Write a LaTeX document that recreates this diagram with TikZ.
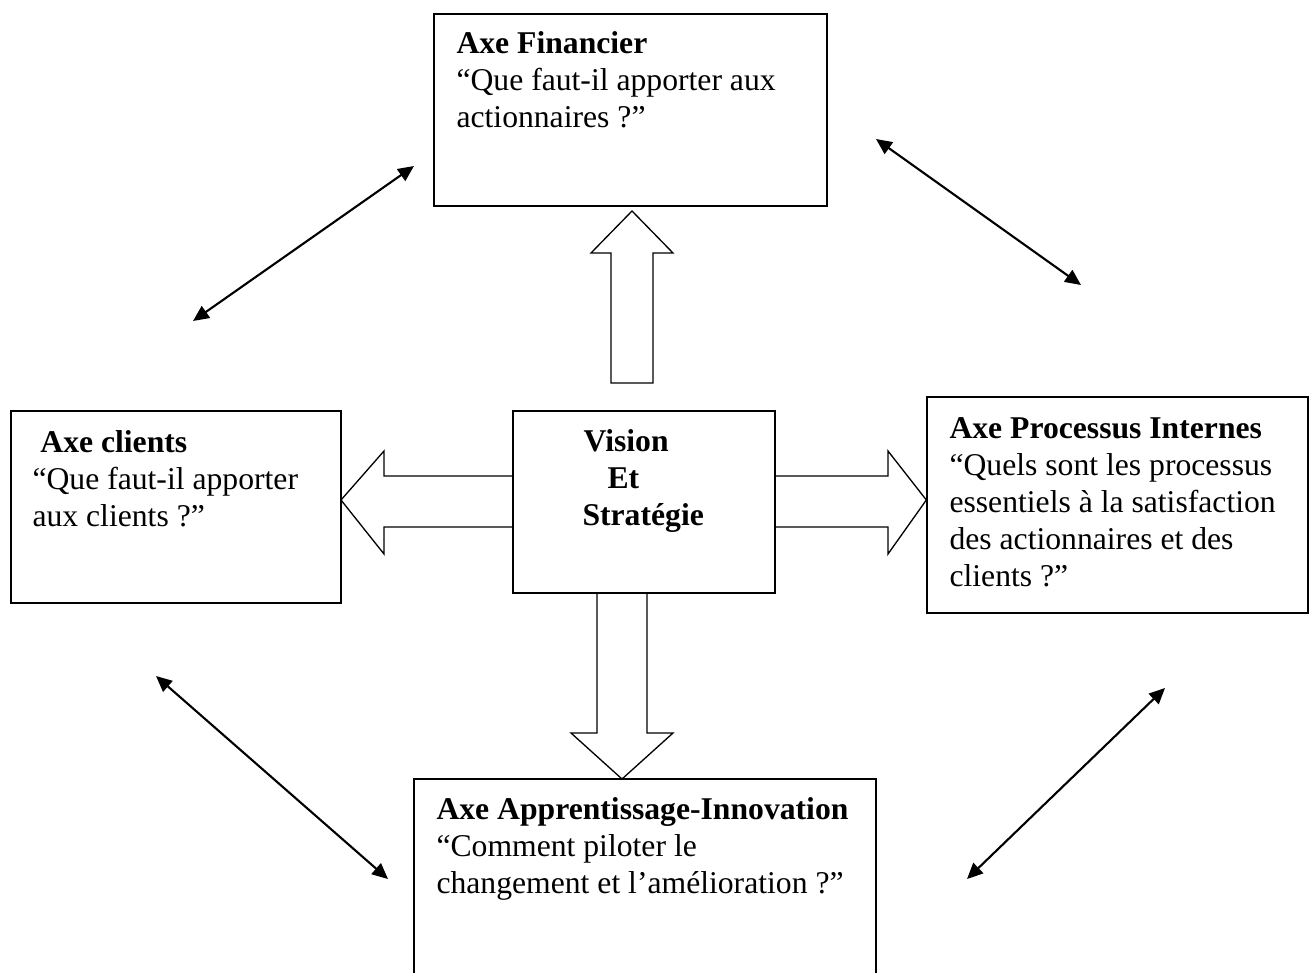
\documentclass[tikz,border=0pt]{standalone}
\usepackage{fontspec}
\setmainfont{Liberation Serif}
\usetikzlibrary{arrows.meta,fit}
\begin{document}
\begin{tikzpicture}[x=0.379pt,y=-0.379pt,
  box/.style={draw,line width=0.5pt,inner sep=0pt,rectangle},
  % multi-line texts: the base anchor sits on the baseline of the last line
  txt/.style={anchor=base west,align=left,inner sep=0pt,
    font=\fontsize{12pt}{14pt}\selectfont},
  block/.style={draw,line width=0.5pt,line join=miter},
  link/.style={{Triangle[length=6pt,width=5.4pt]}-{Triangle[length=6pt,width=5.4pt]},
    line width=0.8pt}]
\useasboundingbox (0,0) rectangle (1311,972);
\clip (0,0) rectangle (1311,972);

% the five boxes
\node[box,fit={(434,14)(827,206)}] (fin) {};
\node[box,fit={(11,411)(341,603)}] (cli) {};
\node[box,fit={(513,411)(775,593)}] (vis) {};
\node[box,fit={(927,397)(1308,613)}] (pro) {};
\node[box,fit={(414,779)(876,1010)}] (app) {};

% box texts
\node[txt] (finT) at (456,127) {\textbf{Axe Financier}\\“Que faut-il apporter aux\\actionnaires ?”};
\node[txt] (cliT) at (32,526) {\hspace{3pt}\textbf{Axe clients}\\“Que faut-il apporter\\aux clients ?”};
\node[txt] (visT) at (582,525) {\hspace{0.4pt}\textbf{Vision}\\\hspace{9.5pt}\textbf{Et}\\\textbf{Stratégie}};
\node[txt] (proT) at (949,586) {\textbf{Axe Processus Internes}\\“Quels sont les processus\\essentiels à la satisfaction\\des actionnaires et des\\clients ?”};
\node[txt] (appT) at (436,893) {\textbf{Axe Apprentissage-Innovation}\\“Comment piloter le\\changement et l’amélioration ?”};

% hollow block arrows leaving the central box
\draw[block] (611,383) -- (611,253) -- (591,253) -- (632,211) -- (673,253) -- (653,253) -- (653,383) -- cycle;
\draw[block] (vis.west |- 0,476) -- (384,476) -- (384,451) -- (341,500) -- (384,554) -- (384,527) -- (vis.west |- 0,527);
\draw[block] (vis.east |- 0,476) -- (888,476) -- (888,451) -- (pro.west |- 0,500) -- (888,554) -- (888,527) -- (vis.east |- 0,527);
\draw[block] (vis.south -| 597,0) -- (597,733) -- (571,733) -- (622,779) -- (673,733) -- (647,733) -- (vis.south -| 647,0);

% double-headed links between neighbouring axes
\coordinate (a1) at (193,321); \coordinate (a2) at (414,166);
\coordinate (b1) at (876,139); \coordinate (b2) at (1081,285);
\coordinate (c1) at (156,676); \coordinate (c2) at (388,879);
\coordinate (d1) at (967,879); \coordinate (d2) at (1165,688);
\draw[link] (a1) -- (a2);
\draw[link] (b1) -- (b2);
\draw[link] (c1) -- (c2);
\draw[link] (d1) -- (d2);
\end{tikzpicture}
\end{document}
